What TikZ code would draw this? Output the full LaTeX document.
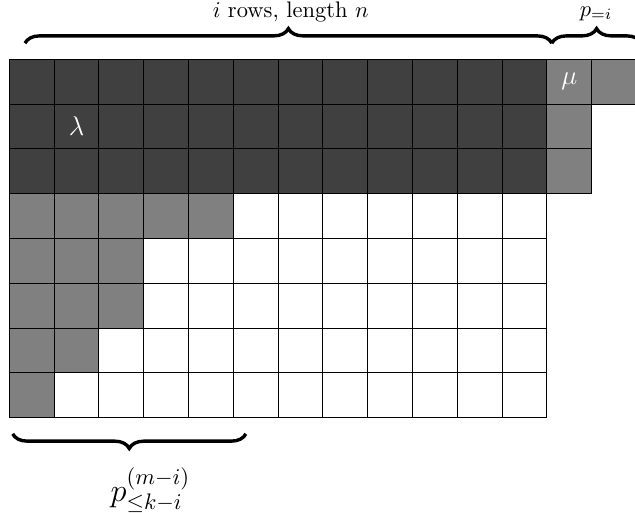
\documentclass[tikz,border=0pt]{standalone}
\usetikzlibrary{decorations.pathreplacing}
\begin{document}
\begin{tikzpicture}[x=0.7cm,y=0.7cm,
  cellline/.style={draw=black,line width=0.5pt},
  darkcell/.style={cellline,fill=black!75},
  graycell/.style={cellline,fill=black!50},
  whitecell/.style={cellline,fill=white},
  bracedeco/.style={decorate,decoration={brace,amplitude=6.5pt},line width=1.5pt},
  whitelabel/.style={text=white,font=\large},
  bracelabel/.style={anchor=base,inner sep=0pt}]
\clip (-0.2076,1.324) rectangle (13.967,-10.127);
% white grid
\foreach \r in {0,...,7}
  \foreach \c in {0,...,11}
    \draw[whitecell] (\c,-\r) rectangle ++(1,-1);
% dark rows
\foreach \r in {0,1,2}
  \foreach \c in {0,...,11}
    \draw[darkcell] (\c,-\r) rectangle ++(1,-1);
% gray cells
\foreach \c/\r in {0/3,1/3,2/3,3/3,4/3,0/4,1/4,2/4,0/5,1/5,2/5,0/6,1/6,0/7,12/0,13/0,12/1,12/2}
  \draw[graycell] (\c,-\r) rectangle ++(1,-1);
% cell labels
\node[whitelabel] (lambda) at (1.5,-1.5) {$\lambda$};
\node[whitelabel] (mu) at (12.5,-0.5) {$\mu$};
% braces
\draw[bracedeco] (0.35,0.36) -- (12.11,0.36);
\draw[bracedeco] (12.11,0.36) -- (14.11,0.36);
\draw[bracedeco] (5.28,-8.36) -- (0.076,-8.36);
% brace labels
\node[bracelabel] (toplabel) at (6.28,0.9375) {$i$ rows, length $n$};
\node[bracelabel] (plabel) at (13.1,0.966) {$p_{=i}$};
\node[bracelabel,font=\Large] (bottomlabel) at (3.15,-9.86) {$p^{(m-i)}_{\le k-i}$};
\end{tikzpicture}
\end{document}
